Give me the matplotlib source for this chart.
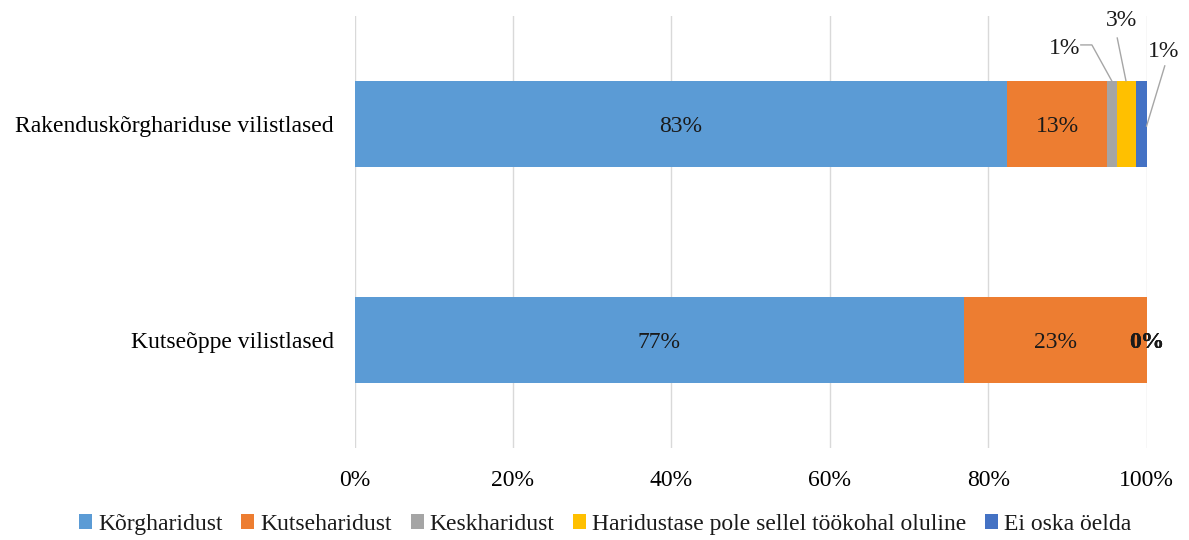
import matplotlib
matplotlib.use("Agg")
import matplotlib.pyplot as plt
import numpy as np

matplotlib.rcParams.update({
    "font.family": ["Liberation Serif", "DejaVu Serif"],
    "font.size": 17,
    "text.color": "#1a1a1a",
})

# data (percent shares)
categories = ["Kutseõppe vilistlased", "Rakenduskõrghariduse vilistlased"]
series = ["Kõrgharidust", "Kutseharidust", "Keskharidust",
          "Haridustase pole sellel töökohal oluline", "Ei oska öelda"]
colors = ["#5B9BD5", "#ED7D31", "#A5A5A5", "#FFC000", "#4472C4"]
values = np.array([
    [76.9, 23.1, 0.0, 0.0, 0.0],   # Kutseõppe
    [82.4, 12.6, 1.3, 2.4, 1.3],   # Rakenduskõrghariduse
])
labels = [
    ["77%", "23%", "0%", "0%", "0%"],
    ["83%", "13%", "1%", "3%", "1%"],
]
xticks = [0, 20, 40, 60, 80, 100]
xtick_labels = ["0%", "20%", "40%", "60%", "80%", "100%"]

fig = plt.figure(figsize=(11.89, 5.40), dpi=100)
ax = fig.add_axes([0.2982, 0.1704, 0.6661, 0.80])

y = np.arange(len(categories))
left = np.zeros(len(categories))
for j, name in enumerate(series):
    ax.barh(y, values[:, j], left=left, height=0.4, color=colors[j],
            label=name, zorder=2)
    left += values[:, j]

# data labels: big segments centred, zero segments at bar end,
# small segments outside with leader lines
outside = {  # (row, series): label position, leader line points
    (1, 2): ((89.6, 1.35), [(91.7, 1.366), (93.1, 1.366), (95.6, 1.20)]),
    (1, 3): ((96.8, 1.48), [(96.3, 1.398), (97.4, 1.20)]),
    (1, 4): ((102.2, 1.337), [(102.3, 1.269), (100.0, 0.99)]),
}
cum = np.cumsum(values, axis=1)
for i in range(len(categories)):
    for j in range(len(series)):
        v = values[i, j]
        start = cum[i, j] - v
        if (i, j) in outside:
            (tx, ty), pts = outside[(i, j)]
            ax.text(tx, ty, labels[i][j], ha="center", va="center",
                    clip_on=False, zorder=4)
            xs, ys = zip(*pts)
            ax.plot(xs, ys, color="#A6A6A6", lw=1.0, clip_on=False, zorder=3)
        elif v == 0:
            ax.text(start, y[i] - 0.01, labels[i][j], ha="center", va="center",
                    fontweight="bold", clip_on=False, zorder=4)
        else:
            ax.text(start + v / 2, y[i] - 0.01, labels[i][j], ha="center",
                    va="center", zorder=4)

ax.set_xlim(0, 100)
ax.set_ylim(-0.5, 1.5)
ax.set_xticks(xticks)
ax.set_xticklabels(xtick_labels)
ax.set_yticks(y)
ax.set_yticklabels(categories)
ax.tick_params(axis="both", length=0)
ax.tick_params(axis="x", pad=16)
ax.tick_params(axis="y", pad=15)
ax.grid(True, axis="x", color="#D9D9D9", lw=1.0, zorder=0)
for s in ax.spines.values():
    s.set_visible(False)

fig.legend(loc="center", bbox_to_anchor=(0.509, 0.029), ncol=5, frameon=False,
           handlelength=0.55, handleheight=0.55, handletextpad=0.25,
           columnspacing=0.8, fontsize=17, borderaxespad=0)

fig.savefig("out.png", dpi=100)
